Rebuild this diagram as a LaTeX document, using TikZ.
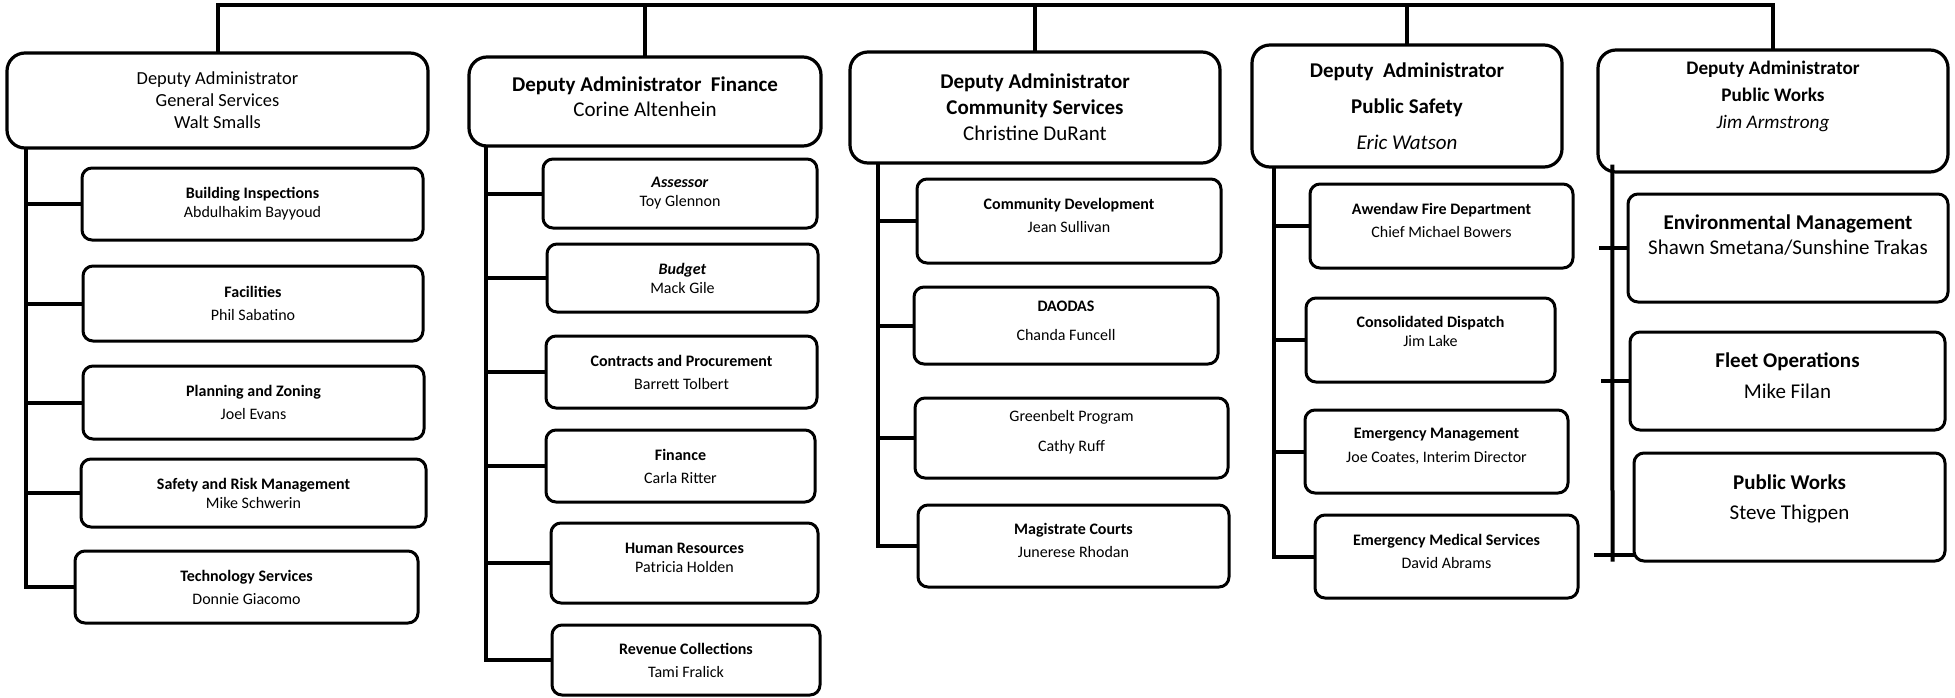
\documentclass[tikz,border=0pt]{standalone}
\usepackage{fontspec}
\setmainfont{Carlito}
\usetikzlibrary{calc}
\newcommand{\bottompad}[1]{\rule[-#1]{0pt}{#1}}

\begin{document}
\begin{tikzpicture}[x=0.5pt, y=-0.5pt,
        headbox/.style={draw, line width=1.6pt, rounded corners=9pt, align=center, inner sep=0pt},
        subbox/.style={draw, line width=1.5pt, rounded corners=5pt, align=center, inner sep=0pt,
            font=\fontsize{8}{9.5}\selectfont},
        bigsub/.style={subbox, font=\fontsize{10.5}{12.5}\selectfont},
        boxdim/.style 2 args={minimum width=#1*0.5pt, minimum height=#2*0.5pt},
        link/.style={line width=2pt, line cap=rect}]
        \useasboundingbox (0,0) rectangle (1955,697);

        % deputy administrators
        \node[headbox, boxdim={421}{95}, font=\fontsize{9.2}{11}\selectfont] (gs) at (217.5,100.5)
            {Deputy Administrator\\General Services\\Walt Smalls};
        \node[headbox, boxdim={352}{89}, font=\fontsize{10.5}{12.5}\selectfont] (fin) at (645,101.5)
            {\textbf{Deputy Administrator\ \ Finance}\\Corine Altenhein\bottompad{5pt}};
        \node[headbox, boxdim={370}{111}, font=\fontsize{10.5}{13}\selectfont] (cs) at (1035,107.5)
            {\textbf{Deputy Administrator}\\\textbf{Community Services}\\Christine DuRant};
        \node[headbox, boxdim={310}{122}, font=\fontsize{10.5}{18}\selectfont] (ps) at (1407,106)
            {\textbf{Deputy\ \ Administrator}\\\textbf{Public Safety}\\\textit{Eric Watson}};
        \node[headbox, boxdim={350}{122}, font=\fontsize{9.6}{13.5}\selectfont] (pw) at (1773,111)
            {\textbf{Deputy Administrator}\\\textbf{Public Works}\\\textit{Jim Armstrong}\bottompad{16pt}};

        % general services
        \node[subbox, boxdim={341}{72}] (bi) at (252.5,204) {\textbf{Building Inspections}\\Abdulhakim Bayyoud};
        \node[subbox, boxdim={340}{75}] (fac) at (253,303.5) {\textbf{Facilities}\\[2pt]Phil Sabatino};
        \node[subbox, boxdim={341}{73}] (pz) at (253.5,402.5) {\textbf{Planning and Zoning}\\[2pt]Joel Evans};
        \node[subbox, boxdim={345}{68}] (srm) at (253.5,493) {\textbf{Safety and Risk Management}\\Mike Schwerin};
        \node[subbox, boxdim={343}{72}] (ts) at (246.5,587) {\textbf{Technology Services}\\[2pt]Donnie Giacomo};

        % finance
        \node[subbox, boxdim={274}{69}] (ass) at (680,193.5) {\textbf{\textit{Assessor}}\\Toy Glennon};
        \node[subbox, boxdim={271}{68}] (bud) at (682.5,278) {\textbf{\textit{Budget}}\\Mack Gile};
        \node[subbox, boxdim={271}{72}] (cp) at (681.5,372) {\textbf{Contracts and Procurement}\\[2pt]Barrett Tolbert};
        \node[subbox, boxdim={269}{72}] (fn) at (680.5,466) {\textbf{Finance}\\[2pt]Carla Ritter};
        \node[subbox, boxdim={267}{80}] (hr) at (684.5,563) {\textbf{Human Resources}\\Patricia Holden\bottompad{5pt}};
        \node[subbox, boxdim={268}{70}] (rc) at (686,660) {\textbf{Revenue Collections}\\[2pt]Tami Fralick};

        % community services
        \node[subbox, boxdim={304}{84}] (cd) at (1069,221) {\textbf{Community Development}\\[2pt]Jean Sullivan\bottompad{6pt}};
        \node[subbox, boxdim={304}{77}] (dao) at (1066,325.5) {\textbf{DAODAS}\\[5pt]Chanda Funcell\bottompad{5pt}};
        \node[subbox, boxdim={313}{80}] (gb) at (1071.5,438) {Greenbelt Program\\[5.5pt]Cathy Ruff\bottompad{7pt}};
        \node[subbox, boxdim={311}{82}] (mc) at (1073.5,546) {\textbf{Magistrate Courts}\\[2pt]Junerese Rhodan\bottompad{6pt}};

        % public safety
        \node[subbox, boxdim={263}{84}] (afd) at (1441.5,226) {\textbf{Awendaw Fire Department}\\[2pt]Chief Michael Bowers\bottompad{6pt}};
        \node[subbox, boxdim={249}{84}] (cdis) at (1430.5,340) {\textbf{Consolidated Dispatch}\\Jim Lake\bottompad{9pt}};
        \node[subbox, boxdim={263}{83}] (em) at (1436.5,451.5) {\textbf{Emergency Management}\\[2.5pt]Joe Coates, Interim Director\bottompad{6pt}};
        \node[subbox, boxdim={263}{83}] (ems) at (1446.5,556.5) {\textbf{Emergency Medical Services}\\[2pt]David Abrams\bottompad{5pt}};

        % public works
        \node[bigsub, boxdim={320}{108}] (env) at (1788,248) {\textbf{Environmental Management}\\Shawn Smetana/Sunshine Trakas\bottompad{13pt}};
        \node[bigsub, boxdim={315}{98}] (fo) at (1787.5,381) {\textbf{Fleet Operations}\\[3pt]Mike Filan\bottompad{5pt}};
        \node[bigsub, boxdim={311}{108}] (pwk) at (1789.5,507) {\textbf{Public Works}\\[2.5pt]Steve Thigpen\bottompad{10pt}};

        % top bus
        \coordinate (busY) at (0,5);
        \draw[link] (gs.north |- busY) -- (pw.north |- busY);
        \foreach \h in {gs,fin,cs,ps,pw}
            \draw[link] (\h.north) -- (\h.north |- busY);

        % trunks and branches
        \coordinate (gsT) at ($(gs.south west)+(21,0)$);
        \coordinate (finT) at ($(fin.south west)+(19,0)$);
        \coordinate (csT) at ($(cs.south west)+(30,0)$);
        \coordinate (psT) at ($(ps.south west)+(24,0)$);
        \foreach \b in {bi,fac,pz,srm,ts}
            \draw[link] (gsT) |- (\b.west);
        \foreach \b in {ass,bud,cp,fn,hr,rc}
            \draw[link] (finT) |- (\b.west);
        \foreach \b in {cd,dao,gb,mc}
            \draw[link] (csT) |- (\b.west);
        \foreach \b in {afd,cdis,em,ems}
            \draw[link] (psT) |- (\b.west);

        \coordinate (pwT) at ($(pw.south west)+(16,-7)$);
        \coordinate (pwB) at ($(pwk.south west)+(-20,-3)$);
        \draw[link] (pwT) -- (pwB);
        \draw[link] ($(pwT |- env.west)+(-11,0)$) -- (env.west);
        \draw[link] ($(pwT |- fo.west)+(-9,0)$) -- (fo.west);
        \draw[link] ($(pwB)+(-17,-5)$) -- ($(pwk.south west)+(0,-8)$);
\end{tikzpicture}
\end{document}
